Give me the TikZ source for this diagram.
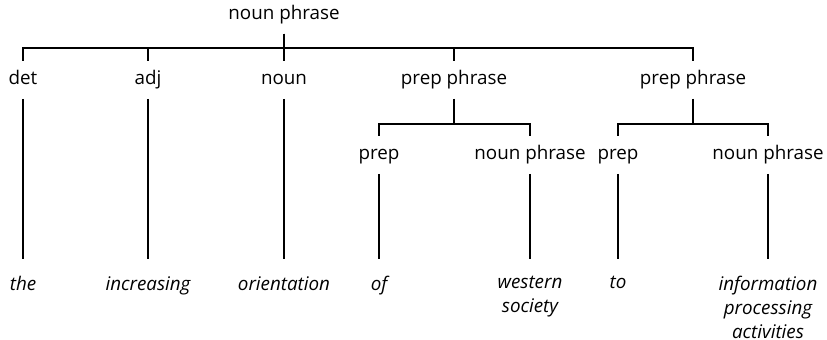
\documentclass[tikz,border=0pt]{standalone}
\usepackage{fontspec}
\setmainfont{Open Sans}
\usetikzlibrary{positioning}

\begin{document}
\begin{tikzpicture}[x=0.5pt, y=-0.5pt, line width=0.8pt, on grid, font=\fontsize{9.4}{12}\selectfont]
    \tikzset{cat/.style = {inner xsep=0pt, inner ysep=4.5pt, text height=7pt, text depth=2pt},
             word/.style = {on grid=false, inner sep=0pt, align=center, font=\fontsize{9.4}{12}\selectfont\itshape}
            }
    \useasboundingbox (0,0) rectangle (827,340);
    % categories
    \node (np) [cat] at (284,15) {noun phrase};
    \node (noun) [cat, below=32.5pt of np] {noun};
    \node (adj) [cat, left=68pt of noun] {adj};
    \node (det) [cat, left=62.5pt of adj] {det};
    \node (pp1) [cat, right=85pt of noun] {prep phrase};
    \node (pp2) [cat, right=119.5pt of pp1] {prep phrase};
    \node (prep1) [cat, below left=37.5pt and 37.5pt of pp1] {prep};
    \node (np1) [cat, below right=37.5pt and 38pt of pp1] {noun phrase};
    \node (prep2) [cat, below left=37.5pt and 37.5pt of pp2] {prep};
    \node (np2) [cat, below right=37.5pt and 37.5pt of pp2] {noun phrase};
    % words
    \node (the) [word, below=88.5pt of det] {the};
    \node (incr) [word, below=88.5pt of adj] {increasing};
    \node (orient) [word, below=88.5pt of noun] {orientation};
    \node (of) [word, below=51pt of prep1] {of};
    \node (west) [word, below=51pt of np1] {western\\society};
    \node (to) [word, below=51pt of prep2] {to};
    \node (info) [word, below=51pt of np2] {information\\processing\\activities};
    % branches
    \foreach \c in {det, adj, noun, pp1, pp2}
        \draw (np.south) |- ([yshift=6.5pt]\c.north) -- (\c.north);
    \foreach \p/\c in {pp1/prep1, pp1/np1, pp2/prep2, pp2/np2}
        \draw (\p.south) |- ([yshift=6pt]\c.north) -- (\c.north);
    \foreach \c/\w in {det/the, adj/incr, noun/orient, prep1/of, np1/west, prep2/to, np2/info}
        \draw[shorten >=8.5pt] (\c.south) -- (\c.south |- \w.north);
\end{tikzpicture}
\end{document}
